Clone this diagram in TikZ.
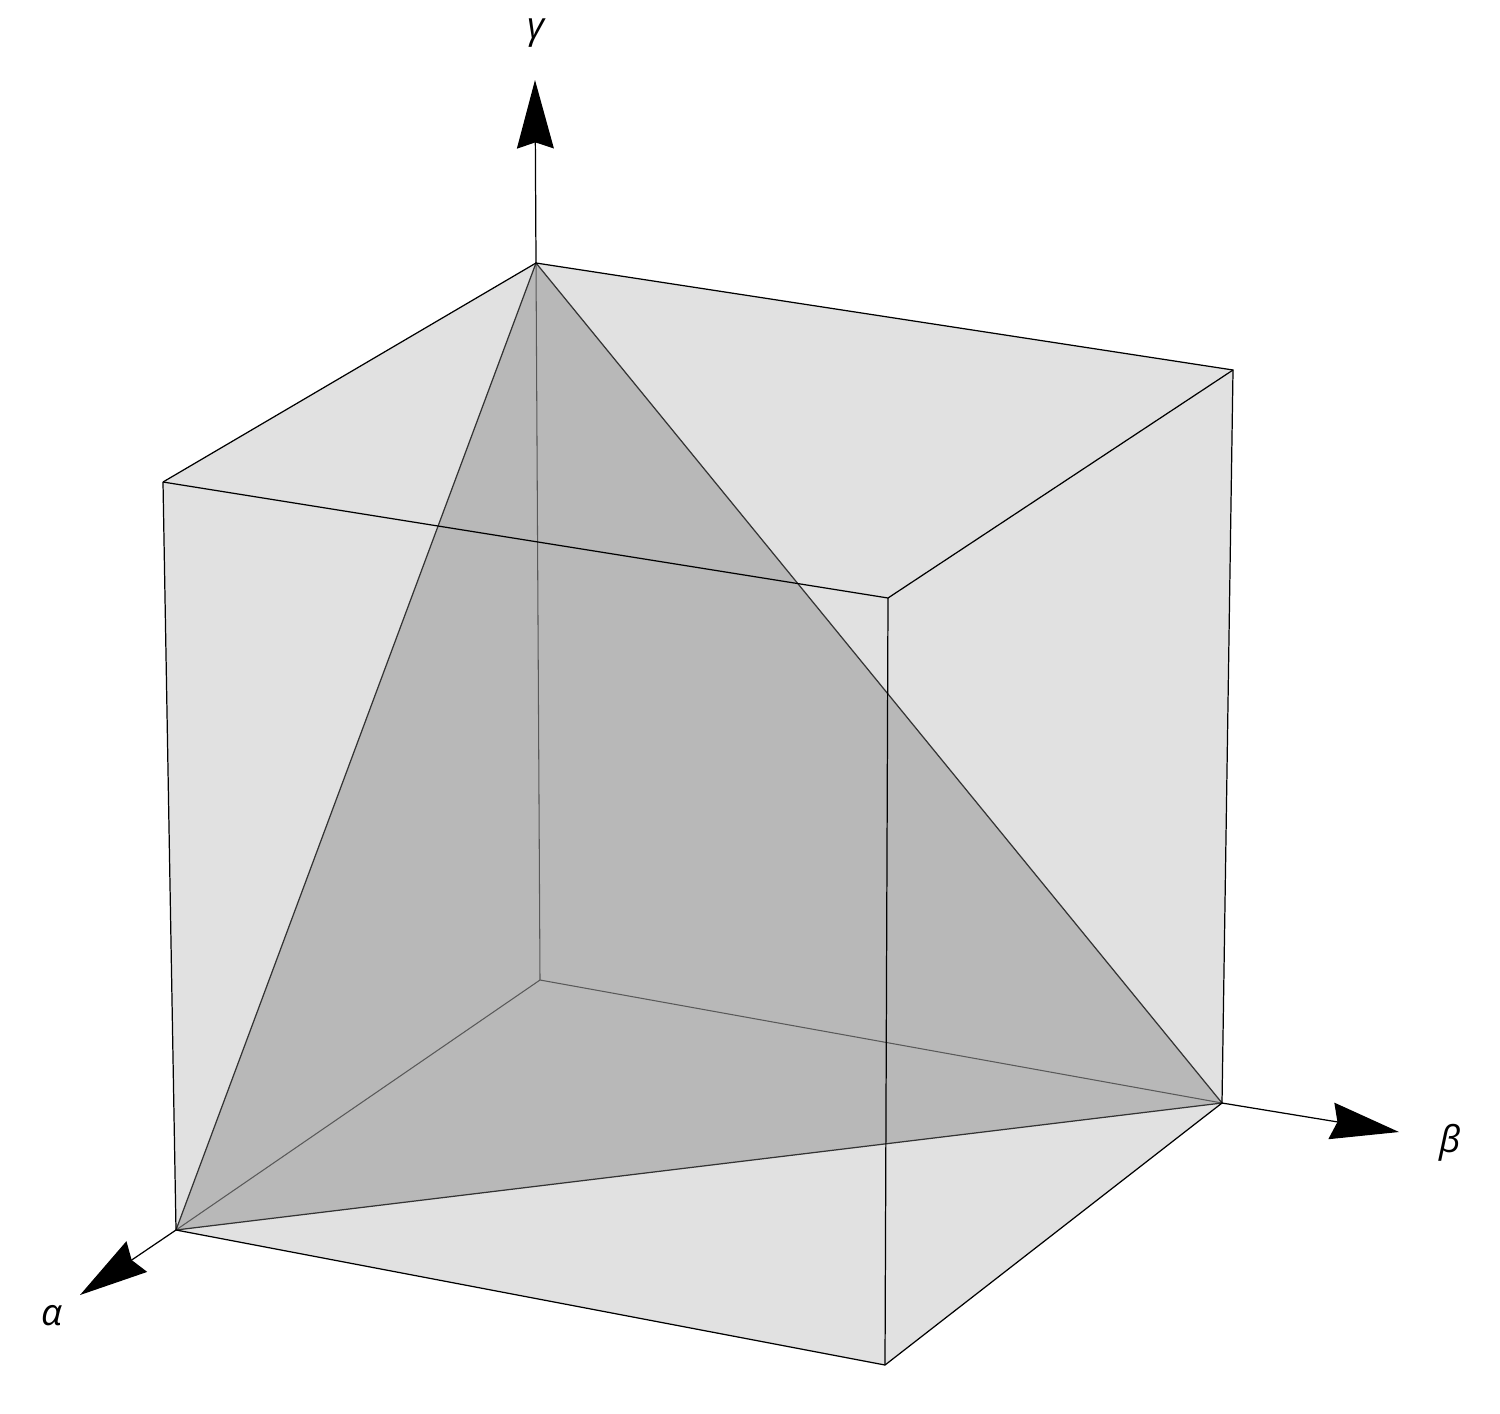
\documentclass[tikz,border=0pt]{standalone}
\usepackage{fontspec}
\setmainfont{Open Sans}
\usetikzlibrary{arrows.meta}
\definecolor{facegray}{HTML}{E1E1E1}
\definecolor{trigray}{HTML}{B8B8B8}
\begin{document}
\begin{tikzpicture}[x=0.02cm,y=-0.02cm,
  edge/.style={draw=black,line width=0.7pt},
  hidden/.style={draw=black!65,line width=0.6pt},
  axis/.style={draw=black,line width=0.7pt,-{Stealth[length=39pt,width=21pt,inset=3.5pt]}},
  axlabel/.style={font=\fontsize{21}{25}\selectfont\itshape}]
\useasboundingbox (0,0) rectangle (1500,1413);
% vertices
\coordinate (O) at (540,980);
\coordinate (G) at (536,263);
\coordinate (B) at (1222,1103);
\coordinate (A) at (176,1230);
\coordinate (AG) at (163,482);
\coordinate (BG) at (1233,370);
\coordinate (ABG) at (888,598);
\coordinate (AB) at (885,1365);
\coordinate (Gt) at (535,80);
\coordinate (Bt) at (1399,1132);
\coordinate (At) at (80,1295);
% cube silhouette fill
\fill[facegray] (A) -- (AB) -- (B) -- (BG) -- (G) -- (AG) -- cycle;
% triangle
\fill[trigray] (A) -- (B) -- (G) -- cycle;
% hidden edges
\draw[hidden] (O) -- (G);
\draw[hidden] (O) -- (A);
\draw[hidden] (O) -- (B);
% triangle edges
\draw[edge,draw=black!80] (A) -- (B) -- (G) -- cycle;
% cube edges
\draw[edge] (AG) -- (ABG) -- (BG);
\draw[edge] (ABG) -- (AB);
\draw[edge] (AG) -- (A) -- (AB) -- (B) -- (BG) -- (G) -- (AG);
% axes
\draw[axis] (G) -- (Gt);
\draw[axis] (B) -- (Bt);
\draw[axis] (A) -- (At);
% labels
\node[axlabel] (lg) at (536,33) {γ};
\node[axlabel] (lb) at (1450,1143) {β};
\node[axlabel] (la) at (52,1316) {α};
\end{tikzpicture}
\end{document}
